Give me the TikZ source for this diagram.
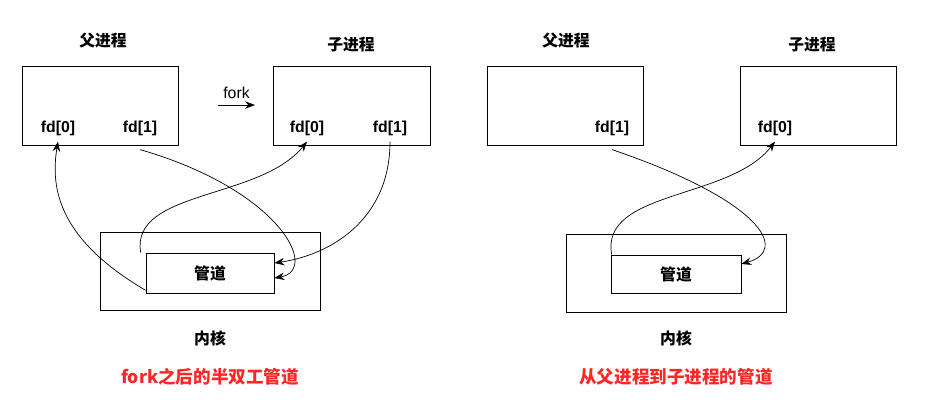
\documentclass[tikz,border=0pt]{standalone}
\usepackage{fontspec}
\setmainfont{Liberation Sans}
\newfontfamily\cjk{Noto Sans CJK SC}
\usetikzlibrary{arrows.meta}
\tikzset{
  box/.style={draw, thin, minimum width=#1, inner sep=0pt},
  lbl/.style={font=\cjk\bfseries\small},
  fd/.style={font=\bfseries\small},
  pipearrow/.style={-{Stealth[length=2mm]}, thin}
}
\begin{document}
\begin{tikzpicture}[x=0.02cm, y=-0.02cm]
  \useasboundingbox (0,0) rectangle (936,414);
  % left half
  \node[box=3.12cm, minimum height=1.58cm] (par) at (100,105.5) {};
  \node[box=3.14cm, minimum height=1.58cm] (chi) at (351.5,105.5) {};
  \node[lbl] (parlbl) at (103,40) {父进程};
  \node[lbl] (chilbl) at (351,45) {子进程};
  \node[fd] (pf0) at (58,128) {fd[0]};
  \node[fd] (pf1) at (140,128) {fd[1]};
  \node[fd] (cf0) at (307,128) {fd[0]};
  \node[fd] (cf1) at (390,128) {fd[1]};
  \coordinate (fa) at (218,105);
  \coordinate (fb) at (255,105);
  \draw[pipearrow] (fa) -- (fb) node[midway, above, font=\small] {fork};
  \node[box=4.4cm, minimum height=1.56cm] (ker) at (210,271) {};
  \node[box=2.56cm, minimum height=0.8cm, lbl] (pipe) at (210,273) {管道};
  \node[lbl] (kerlbl) at (210,338) {内核};
  \node[lbl, text=red!85!white, font=\cjk\bfseries] (cap) at (210,377) {fork之后的半双工管道};
  \draw[pipearrow] (pipe.south west) ++(0,-3) .. controls (60,240) and (50,190) .. (pf0.south);
  \draw[pipearrow] (pf1.south) ++(0,8) .. controls (280,190) and (320,270) .. ([yshift=-0.1cm]pipe.east);
  \draw[pipearrow] ([xshift=-0.1cm]pipe.north west) .. controls (130,190) and (260,200) .. (cf0.south);
  \draw[pipearrow] (cf1.south) .. controls (390,220) and (330,255) .. ([yshift=0.2cm]pipe.east);
  % right half
  \node[box=3.12cm, minimum height=1.58cm] (par2) at (565,105.5) {};
  \node[box=3.12cm, minimum height=1.58cm] (chi2) at (818,105.5) {};
  \node[lbl] (parlbl2) at (566,40) {父进程};
  \node[lbl] (chilbl2) at (812,45) {子进程};
  \node[fd] (pf12) at (612,128) {fd[1]};
  \node[fd] (cf02) at (775,128) {fd[0]};
  \node[box=4.4cm, minimum height=1.56cm] (ker2) at (676,273) {};
  \node[box=2.6cm, minimum height=0.76cm, lbl] (pipe2) at (676,274) {管道};
  \node[lbl] (kerlbl2) at (676,338) {内核};
  \node[lbl, text=red!85!white, font=\cjk\bfseries] (cap2) at (676,377) {从父进程到子进程的管道};
  \draw[pipearrow] (pf12.south) ++(0,8) .. controls (760,200) and (790,250) .. ([yshift=0.2cm]pipe2.east);
  \draw[pipearrow] ([xshift=0.02cm]pipe2.north west) .. controls (600,190) and (730,200) .. (cf02.south);
\end{tikzpicture}
\end{document}
